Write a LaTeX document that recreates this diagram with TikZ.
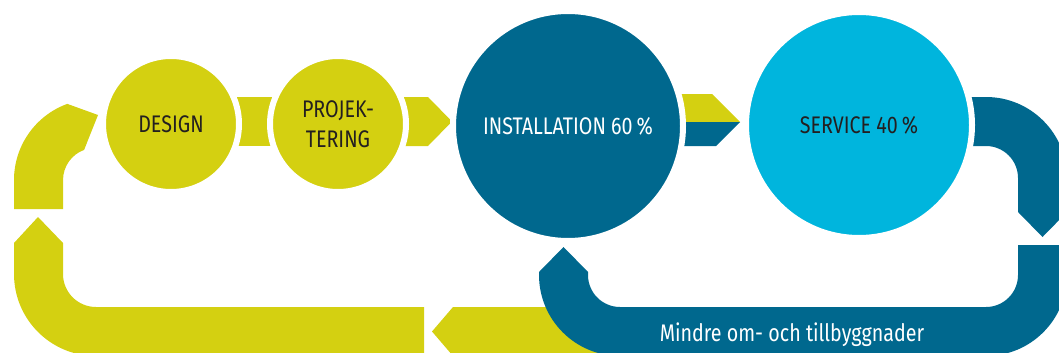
\documentclass[tikz,border=0pt]{standalone}
\usepackage{fontspec}
\newfontfamily\dinfont[FakeStretch=0.82]{Fira Sans}
\definecolor{kwyellow}{HTML}{D4D011}
\definecolor{kwpetrol}{HTML}{00688E}
\definecolor{kwsky}{HTML}{00B5DD}
\definecolor{kwtext}{HTML}{231F20}
\tikzset{
  phase/.style={circle, inner sep=0pt, outer sep=0pt, draw=white, line width=4.5pt,
    align=center, font=\dinfont\fontsize{18}{22.5}\selectfont},
  small/.style={phase, minimum size=102pt, fill=kwyellow, text=kwtext},
}
\begin{document}
\begin{tikzpicture}[x=0.75pt, y=-0.75pt]
\useasboundingbox (0,0) rectangle (1059,353);
\clip (0,0) rectangle (1059,353);
% loop back on the left
\fill[kwyellow] (14,209) -- (14,180) arc[start angle=180, end angle=250, radius=81]
  -- (98,115) -- (84.1,149.9) arc[start angle=250, end angle=180, radius=32]
  -- (63,209) -- cycle;
\fill[kwyellow] (38,217) -- (63,243) -- (63,274) arc[start angle=180, end angle=90, radius=33]
  -- (424,307) -- (424,356) -- (96,356) arc[start angle=90, end angle=180, radius=82]
  -- (14,243) -- cycle;
\fill[kwyellow] (432,331.5) -- (453,307) -- (620,307) -- (620,356) -- (453,356) -- cycle;
% loop on the right
\fill[kwpetrol] (940,97) -- (986,97) arc[start angle=270, end angle=360, radius=81]
  -- (1067,212) -- (1042.5,237) -- (1018,212) -- (1018,178)
  arc[start angle=0, end angle=-90, radius=32] -- (940,146) -- cycle;
\fill[kwpetrol] (1018,245) -- (1067,245) -- (1067,275) arc[start angle=0, end angle=90, radius=81]
  -- (620,356) arc[start angle=90, end angle=180, radius=81]
  -- (539,272) -- (563.5,247) -- (588,272) -- (588,275)
  arc[start angle=180, end angle=90, radius=32]
  -- (986,307) arc[start angle=90, end angle=0, radius=32] -- cycle;
% arrows between the phases
\fill[kwyellow] (220,97) rectangle (290,146);
\fill[kwyellow] (390,97) -- (428,97) -- (452,121.5) -- (428,146) -- (390,146) -- cycle;
\fill[kwyellow] (660,94) -- (712,94) -- (740,122) -- (660,122) -- cycle;
\fill[kwpetrol] (660,122) -- (740,122) -- (716,146) -- (660,146) -- cycle;
% phases
\node[small] (design) at (171,124) {DESIGN};
\node[small] (projekt) at (338,124) {PROJEK-\\TERING};
\node[phase, minimum size=172.5pt, fill=kwpetrol, text=white] (install) at (568,126) {INSTALLATION 60\,\%};
\node[phase, minimum size=169.5pt, fill=kwsky, text=kwtext] (service) at (859,125) {SERVICE 40\,\%};
\node[anchor=base, text=white, font=\dinfont\fontsize{18}{22.5}\selectfont] (extend) at (792,341) {Mindre om- och tillbyggnader};
\end{tikzpicture}
\end{document}
